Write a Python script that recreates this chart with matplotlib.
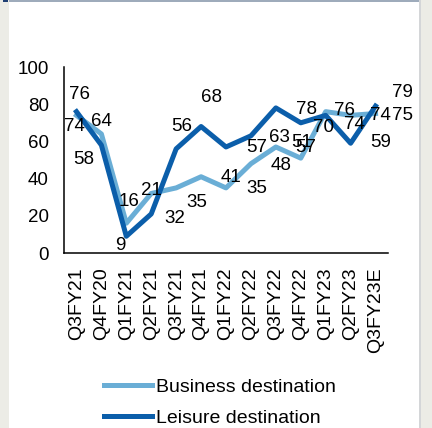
import matplotlib
matplotlib.use("Agg")
import matplotlib.pyplot as plt
from matplotlib.patches import Rectangle

plt.rcParams["font.family"] = ["Liberation Sans", "DejaVu Sans"]

# %%
# Data
quarters = ["Q3FY21", "Q4FY20", "Q1FY21", "Q2FY21", "Q3FY21", "Q4FY21", "Q1FY22",
            "Q2FY22", "Q3FY22", "Q4FY22", "Q1FY23", "Q2FY23", "Q3FY23E"]
business = [74, 64, 16, 32, 35, 41, 35, 48, 57, 51, 76, 74, 75]
leisure = [76, 58, 9, 21, 56, 68, 57, 63, 78, 70, 74, 59, 79]

# label offsets in pixels (dx, dy) from each point, as they sit in the picture
business_offsets = [(-2.5, -11.6), (0.5, 12), (2.4, 22.2), (23.4, -25.5), (20.3, -15.1),
                    (30.3, -0.3), (30.3, -1.1), (30.2, -1.3), (30.2, -1.0), (1.1, 16.1),
                    (19.1, 1.6), (30.1, -0.6), (27, -1.5)]
leisure_offsets = [(3.5, 17.6), (-17.5, -14), (-5.6, -9.7), (0.4, 23), (5.3, 22),
                   (10.3, 29.5), (30.3, -1), (28.2, -1.2), (30.2, -1.1), (23.1, -5.2),
                   (29.1, -9.6), (30.1, 0.3), (27, 14)]

LIGHT = "#6aaed6"
DARK = "#0b5eaa"
FS = 13.5

fig = plt.figure(figsize=(4.32, 4.28), dpi=100, facecolor="#ecece6")
W, H = 432, 428

# white panel with the thin frame bits of the original slide
fig.patches.append(Rectangle((9 / W, 0), 410 / W, 1, transform=fig.transFigure,
                             facecolor="white", edgecolor="none", zorder=-3))
fig.patches.append(Rectangle((419 / W, 0), 2 / W, 1, transform=fig.transFigure,
                             facecolor="#d4d6d8", edgecolor="none", zorder=-2))
fig.patches.append(Rectangle((9 / W, 1 - 2 / H), 410 / W, 2 / H, transform=fig.transFigure,
                             facecolor="#9eabbb", edgecolor="none", zorder=-2))
fig.patches.append(Rectangle((3 / W, 1 - 2 / H), 5 / W, 2 / H, transform=fig.transFigure,
                             facecolor="#1f3f73", edgecolor="none", zorder=-2))

ax = fig.add_axes([64 / W, 1 - 253 / H, 324 / W, 186 / H])
ax.set_facecolor("none")
x = range(len(quarters))

ax.plot(x, business, color=LIGHT, lw=3.6, label="Business destination")
ax.plot(x, leisure, color=DARK, lw=3.6, label="Leisure destination")

for i, (v, off) in enumerate(zip(leisure, leisure_offsets)):
    ax.annotate(str(v), (i, v), xytext=off, textcoords="offset pixels",
                ha="center", va="center", fontsize=FS, annotation_clip=False)
for i, (v, off) in enumerate(zip(business, business_offsets)):
    ax.annotate(str(v), (i, v), xytext=off, textcoords="offset pixels",
                ha="center", va="center", fontsize=FS, annotation_clip=False)

ax.set_xlim(-0.5, len(quarters) - 0.5)
ax.set_ylim(0, 100)
ax.set_yticks(range(0, 101, 20))
ax.set_xticks(list(x))
ax.set_xticklabels(quarters, rotation=90, fontsize=14)
ax.tick_params(axis="both", length=0)
ax.tick_params(axis="y", pad=11, labelsize=FS)
ax.tick_params(axis="x", pad=10)
for side in ["top", "right"]:
    ax.spines[side].set_visible(False)
for side in ["left", "bottom"]:
    ax.spines[side].set_linewidth(1.1)
    ax.spines[side].set_color("black")

fig.legend(loc="center left", bbox_to_anchor=(104 / W, 1 - 402.5 / H), frameon=False,
           fontsize=14, handlelength=2.45, handletextpad=0.25, labelspacing=0.72,
           borderpad=0, borderaxespad=0)

fig.savefig("out.png", dpi=100, facecolor=fig.get_facecolor())
